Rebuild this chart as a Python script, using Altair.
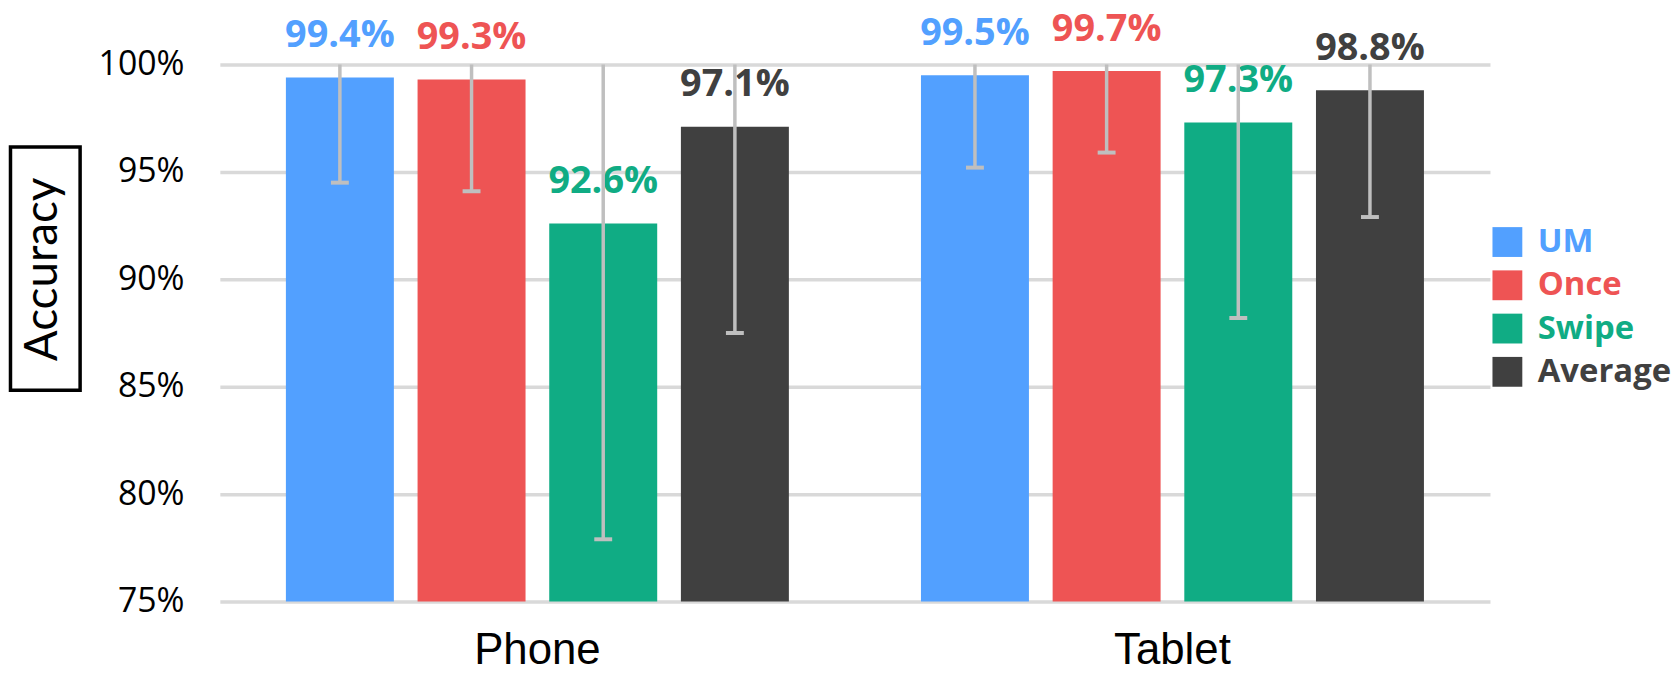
import altair as alt
import pandas as pd

devices = ["Phone", "Tablet"]
methods = ["UM", "Once", "Swipe", "Average"]
phone_acc = [99.4, 99.3, 92.6, 97.1]
tablet_acc = [99.5, 99.7, 97.3, 98.8]
phone_low = [94.5, 94.1, 77.9, 87.5]
tablet_low = [95.2, 95.9, 88.2, 92.9]
y_ticks = [75, 80, 85, 90, 95, 100]
colors = ["#52A0FF", "#EE5454", "#10AC84", "#404040"]
y_title = ["Accuracy"]

rows = []
for dev, accs, lows in [("Phone", phone_acc, phone_low), ("Tablet", tablet_acc, tablet_low)]:
    for m, a, l in zip(methods, accs, lows):
        rows.append({"device": dev, "method": m, "acc": a, "low": l})
df = pd.DataFrame(rows)

yscale = alt.Scale(domain=[75, 100], zero=False, nice=False)
cscale = alt.Scale(domain=methods, range=colors)

label_color_expr = " : ".join(
    [f"datum.value == '{m}' ? '{c}'" for m, c in zip(methods[:-1], colors[:-1])]
) + f" : '{colors[-1]}'"

base = alt.Chart(df).encode(
    x=alt.X(
        "device:N",
        sort=devices,
        scale=alt.Scale(paddingInner=0.208, paddingOuter=0.104),
        axis=alt.Axis(
            title=None, labelFont="Liberation Sans", labelFontSize=44, labelColor="black",
            labelAngle=0, labelPadding=27, domain=False, ticks=False, grid=False,
        ),
    ),
    xOffset=alt.XOffset("method:N", sort=methods, scale=alt.Scale(paddingInner=0.18, paddingOuter=0)),
)

bars = base.mark_bar().encode(
    y=alt.Y(
        "acc:Q",
        scale=yscale,
        axis=alt.Axis(
            title=None, values=y_ticks, labelExpr="datum.value + '%'", labelFont="Open Sans",
            labelFontSize=34, labelColor="black", labelPadding=36, domain=False, ticks=False,
            grid=True, gridColor="#D9D9D9", gridWidth=3.5,
        ),
    ),
    y2=alt.datum(75),
    color=alt.Color(
        "method:N",
        sort=methods,
        scale=cscale,
        legend=alt.Legend(
            title=None, orient="none", legendX=1278, legendY=162, padding=0,
            symbolType="square", symbolSize=900, symbolStrokeWidth=0, symbolOpacity=1,
            labelFont="Open Sans", labelFontWeight="bold", labelFontSize=33,
            labelOffset=14, rowPadding=9.5,
            labelColor=alt.ExprRef(expr=label_color_expr),
        ),
    ),
)

labels = base.transform_calculate(
    lbl="format(datum.acc, '.1f') + '%'"
).mark_text(
    font="Open Sans", fontWeight="bold", fontSize=38, baseline="middle", dy=-41.5
).encode(
    y=alt.Y("acc:Q", scale=yscale),
    text="lbl:N",
    color=alt.Color("method:N", sort=methods, scale=cscale, legend=None),
)

err = base.transform_calculate(
    hi="min(100, 2 * datum.acc - datum.low)"
).mark_rule(color="#BFBFBF", strokeWidth=3.5).encode(
    y=alt.Y("low:Q", scale=yscale),
    y2="hi:Q",
)

caps = base.mark_tick(color="#BFBFBF", thickness=4, size=18, orient="horizontal", opacity=1).encode(
    y=alt.Y("low:Q", scale=yscale),
)

title_df = pd.DataFrame({"t": y_title})
box = alt.Chart(title_df).mark_rect(fill="white", stroke="black", strokeWidth=3.5).encode(
    x=alt.value(-210.5), x2=alt.value(-140.5), y=alt.value(83), y2=alt.value(327.5)
)
title_txt = alt.Chart(title_df).mark_text(
    angle=270, font="Lato", fontSize=46, align="center", baseline="alphabetic", color="black"
).encode(x=alt.value(-164), y=alt.value(206), text="t:N")

chart = alt.layer(bars, labels, err, caps, box, title_txt).properties(
    width=1277, height=540, padding=0, background="white"
).configure_view(stroke=None)

chart.save("out.html", embed_options={"renderer": "svg", "actions": False})
